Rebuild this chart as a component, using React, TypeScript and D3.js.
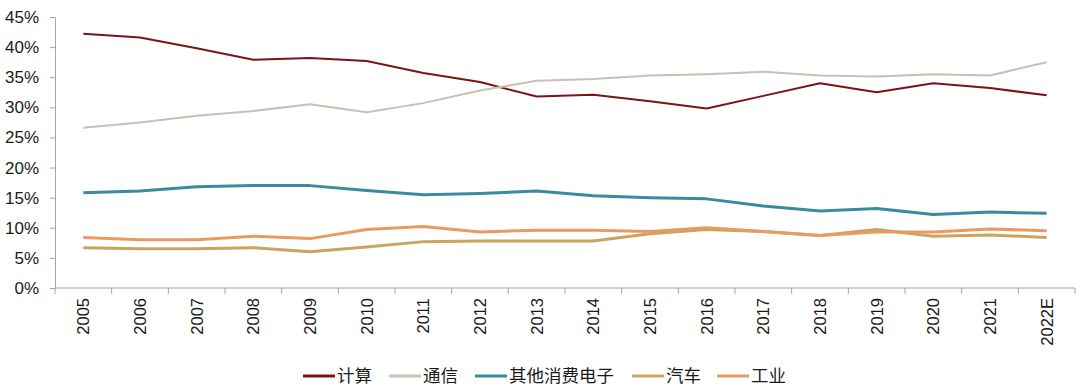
import React, { useEffect, useRef } from 'react'
import * as d3 from 'd3'

const years = ['2005', '2006', '2007', '2008', '2009', '2010', '2011', '2012', '2013', '2014', '2015', '2016', '2017', '2018', '2019', '2020', '2021', '2022E']
const seriesNames = ['计算', '通信', '其他消费电子', '汽车', '工业']
const computing = [42.2, 41.6, 39.8, 37.9, 38.2, 37.7, 35.7, 34.2, 31.8, 32.1, 31.0, 29.8, 31.9, 34.0, 32.5, 34.0, 33.2, 32.0]
const telecom = [26.6, 27.5, 28.6, 29.4, 30.5, 29.2, 30.7, 32.8, 34.4, 34.7, 35.3, 35.5, 35.9, 35.3, 35.1, 35.5, 35.3, 37.5]
const consumer = [15.8, 16.1, 16.8, 17.0, 17.0, 16.2, 15.5, 15.7, 16.1, 15.3, 15.0, 14.8, 13.6, 12.8, 13.2, 12.2, 12.6, 12.4]
const auto = [6.7, 6.5, 6.5, 6.7, 6.0, 6.8, 7.7, 7.8, 7.8, 7.8, 9.0, 9.7, 9.4, 8.7, 9.7, 8.6, 8.8, 8.4]
const industrial = [8.4, 8.0, 8.0, 8.6, 8.2, 9.7, 10.2, 9.3, 9.6, 9.6, 9.4, 10.0, 9.4, 8.7, 9.3, 9.3, 9.8, 9.5]
const yTicks = [0, 5, 10, 15, 20, 25, 30, 35, 40, 45]

const colors = ['#7a1416', '#c5c2b3', '#3b8a9e', '#c9a560', '#e99a63']
const widths = [2, 2, 3, 3, 3]

export default function App() {
  const ref = useRef<SVGSVGElement>(null)

  useEffect(() => {
    const svg = d3.select(ref.current)
    svg.selectAll('*').remove()

    const margin = { top: 17, left: 55, right: 5 }
    const w = 1080 - margin.left - margin.right
    const h = 288 - margin.top
    const font = 'Liberation Sans, Arial, sans-serif'

    const x = d3.scaleBand().domain(years).range([0, w])
    const y = d3.scaleLinear().domain([0, 45]).range([h, 0])

    const g = svg.append('g').attr('transform', `translate(${margin.left}, ${margin.top})`)

    // y axis
    const yAxis = g.append('g')
      .call(d3.axisLeft(y).tickValues(yTicks).tickSize(5).tickFormat(d => `${d}%`))
    yAxis.select('.domain').attr('stroke', '#a6a6a6')
    yAxis.selectAll('.tick line').attr('stroke', '#a6a6a6')
    yAxis.selectAll('.tick text')
      .attr('x', -16)
      .style('font-family', font).style('font-size', '17px').attr('fill', '#1a1a1a')

    // x axis with ticks on band edges
    const xg = g.append('g').attr('transform', `translate(0, ${h})`)
    xg.append('line').attr('x1', 0).attr('x2', w).attr('stroke', '#a6a6a6')
    xg.selectAll('.xt').data(d3.range(years.length + 1)).join('line')
      .attr('class', 'xt')
      .attr('x1', i => i * x.step()).attr('x2', i => i * x.step())
      .attr('y1', 0).attr('y2', 6).attr('stroke', '#a6a6a6')
    xg.selectAll('.xl').data(years).join('text')
      .attr('class', 'xl')
      .attr('transform', d => `translate(${x(d)! + x.bandwidth() / 2 + 6}, 10) rotate(-90)`)
      .attr('text-anchor', 'end')
      .style('font-family', font).style('font-size', '16.5px').attr('fill', '#1a1a1a')
      .text(d => d)

    // lines
    const allSeries = [computing, telecom, consumer, auto, industrial]
    const line = d3.line<number>()
      .x((_, i) => x(years[i])! + x.bandwidth() / 2)
      .y(d => y(d))
    g.selectAll('.series').data(allSeries).join('path')
      .attr('class', 'series')
      .attr('d', d => line(d))
      .attr('fill', 'none')
      .attr('stroke', (_, i) => colors[i])
      .attr('stroke-width', (_, i) => widths[i])
      .attr('stroke-linejoin', 'round')

    // legend
    const legendX = [303, 389, 475, 632, 717]
    const legend = svg.append('g').attr('transform', 'translate(0, 376)')
    seriesNames.forEach((name, i) => {
      legend.append('line')
        .attr('x1', legendX[i]).attr('x2', legendX[i] + 32)
        .attr('stroke', colors[i]).attr('stroke-width', 3)
      legend.append('text')
        .attr('x', legendX[i] + 34).attr('y', 6)
        .style('font-family', 'Noto Sans CJK SC, sans-serif').style('font-size', '17.5px')
        .attr('fill', '#1a1a1a')
        .text(name)
    })
  }, [])

  return (
    <svg ref={ref} width={1080} height={391} style={{ position: 'absolute', left: 0, top: 0 }}></svg>
  )
}
